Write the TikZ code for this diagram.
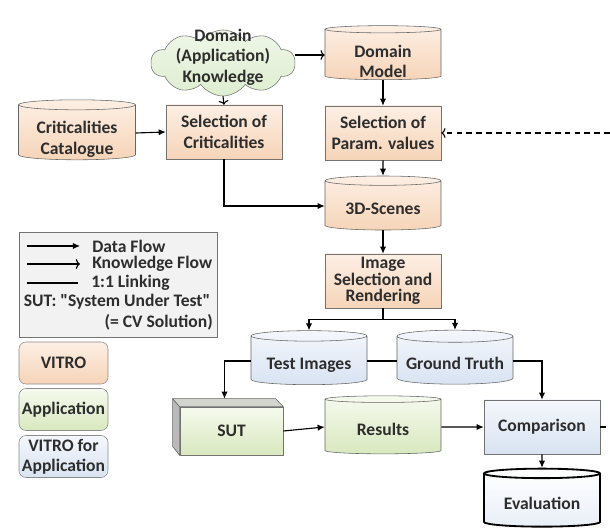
\documentclass[tikz,border=0pt]{standalone}
\usepackage{fontspec}
\setmainfont{Carlito}[Ligatures=TeXOff]
\usepackage{tikz}
\usetikzlibrary{arrows.meta,shapes.geometric,shapes.symbols}
\definecolor{vtlight}{RGB}{253,239,228}
\definecolor{vtdark}{RGB}{246,212,184}
\definecolor{aplight}{RGB}{246,250,238}
\definecolor{apdark}{RGB}{216,232,190}
\definecolor{vflight}{RGB}{244,247,252}
\definecolor{vfdark}{RGB}{216,227,242}
\definecolor{cldgreen}{RGB}{222,238,208}
\definecolor{lggray}{RGB}{242,242,242}
\definecolor{txtgray}{RGB}{45,45,45}
% text of a data store sits a bit below the middle, under the lid
\newcommand{\dbtext}[2][3pt]{\raisebox{-#1}[\height][\depth]{\begin{tabular}{@{}c@{}}#2\end{tabular}}}
\tikzstyle{lbl} = [font=\fontsize{12.5}{14.5}\selectfont\bfseries, text=txtgray, align=center]
\tikzstyle{vitro} = [top color=vtlight, bottom color=vtdark]
\tikzstyle{app} = [top color=aplight, bottom color=apdark]
\tikzstyle{vfa} = [top color=vflight, bottom color=vfdark]
\tikzstyle{box} = [lbl, rectangle, draw=black!55, inner sep=1pt, minimum width=2.9cm, minimum height=1.35cm]
\tikzstyle{store} = [lbl, cylinder, shape border rotate=90, aspect=0.12, draw=black!60, inner sep=1pt, minimum width=2.9cm, minimum height=1.35cm]
\tikzstyle{swatch} = [lbl, rectangle, rounded corners=5pt, draw=black!45, inner sep=0pt, minimum width=2.225cm, minimum height=1.05cm]
\tikzstyle{legtext} = [lbl, inner sep=0pt]
\tikzstyle{data} = [thick, -{Latex[length=5pt,width=4.5pt]}]
\tikzstyle{know} = [thick, -{To[length=3pt,width=7pt]}]
\tikzstyle{linkline} = [thick]

\begin{document}
\begin{tikzpicture}[x=0.025cm, y=-0.025cm]
\useasboundingbox (0,0) rectangle (610,531);
\clip (0,0) rectangle (610,531);

% Knowledge and model preparation
\node[cloud, cloud puffs=10, cloud puff arc=110, cloud ignores aspect, draw=black!55,
      top color=white!50!cldgreen, bottom color=cldgreen, inner sep=0pt,
      minimum width=3.6cm, minimum height=1.65cm,
      label={[lbl, inner sep=0pt, yshift=0.15cm]center:Domain\\(Application)\\Knowledge}] (dk) at (223,63) {};
\node[store, vitro] (dm) at (383,55) {\dbtext[6pt]{Domain\\Model}};
\node[store, vitro, minimum width=2.925cm, minimum height=1.5cm] (cat) at (77,133) {\dbtext[5pt]{Criticalities\\Catalogue}};
\node[box, vitro] (selcrit) at (224,132) {Selection of\\Criticalities};
\node[box, vitro] (selpar) at (383,133) {Selection of\\Param. values};
\node[store, vitro] (scenes) at (383,206) {\dbtext{3D-Scenes}};
\node[box, vitro, font=\fontsize{12.5}{11.8}\selectfont\bfseries] (render) at (383,281) {Image\\Selection and\\Rendering};

% Test execution and evaluation
\node[store, vfa] (tst) at (309,361) {\dbtext{Test Images}};
\node[store, vfa] (gt) at (455,361) {\dbtext{Ground Truth}};
\node[box, app, minimum width=2.575cm, minimum height=1.2cm] (sut) at (231.5,431) {SUT};
\node[store, app, minimum height=1.45cm] (res) at (383,427) {\dbtext{Results}};
\node[box, vfa] (cmp) at (542,427) {Comparison};
\node[store, draw=black, line width=1.3pt, top color=white, bottom color=vflight!60!vfdark,
      minimum height=1.45cm] (eval) at (542,501) {\dbtext{Evaluation}};

% 3D faces of the SUT block
\filldraw[fill=gray!55, draw=black!60] (sut.north west) -- ++(-7,-8) -- ++(0,48) -- (sut.south west) -- cycle;
\filldraw[fill=aplight!70!gray, draw=black!60] (sut.north west) -- ++(-7,-8) -- ++(103,0) -- (sut.north east) -- cycle;
\coordinate (sutback) at ([xshift=-0.175cm,yshift=0.2cm]sut.north);

% Connectors
\draw[know] (dm.west -| dk.east) -- (dm.west);
\draw[know] (dk.south) -- (selcrit.north);
\draw[data] (cat.east) -- (selcrit.west);
\draw[data] (dm.south) -- (selpar.north);
\draw[data] (selpar.south) -- (scenes.north);
\draw[data] (selcrit.south) |- (scenes.west);
\draw[data] (scenes.south) -- (render.north);
\draw[thick] (render.south) -- ++(0,11) coordinate (split);
\draw[data] (split) -| (tst.north);
\draw[data] (split) -| (gt.north);
\draw[linkline] (tst.east) -- (gt.west);
\draw[data] (tst.west) -| (sutback);
\draw[data] (sut.east) -- (res.west);
\draw[data] (res.east) -- (cmp.west);
\draw[data] (gt.east) -| (cmp.north);
\draw[data] (cmp.south) -- (eval.north);

% Feedback loop
\draw[know, dash pattern=on 4pt off 3pt] (cmp.east) -- ++(30,0) |- (selpar.east);

% Legend
\node[rectangle, draw=black!55, fill=lggray, minimum width=4.95cm, minimum height=2.625cm] (legend) at (118,284.5) {};
\node[legtext, anchor=west] (lgdata) at (92,246) {Data Flow};
\node[legtext, anchor=west] (lgknow) at (92,264) {Knowledge Flow};
\node[legtext, anchor=west] (lglink) at (91,283) {1:1 Linking};
\node[legtext] (lgsut) at (117,302) {SUT: "System Under Test"};
\node[legtext, anchor=east] (lgcv) at (213,322) {(= CV Solution)};
\draw[data] ([xshift=-1.625cm]lgdata.west) -- ([xshift=-0.3cm]lgdata.west);
\draw[know] ([xshift=-1.625cm]lgknow.west) -- ([xshift=-0.3cm]lgknow.west);
\draw[linkline] ([xshift=-1.6cm]lglink.west) -- ([xshift=-0.325cm]lglink.west);

% Colour key
\node[swatch, vitro] (swv) at (63.5,363) {VITRO};
\node[swatch, app] (swa) at (63.5,409.5) {Application};
\node[swatch, vfa] (swf) at (63.5,456.5) {VITRO for\\Application};
\end{tikzpicture}
\end{document}
